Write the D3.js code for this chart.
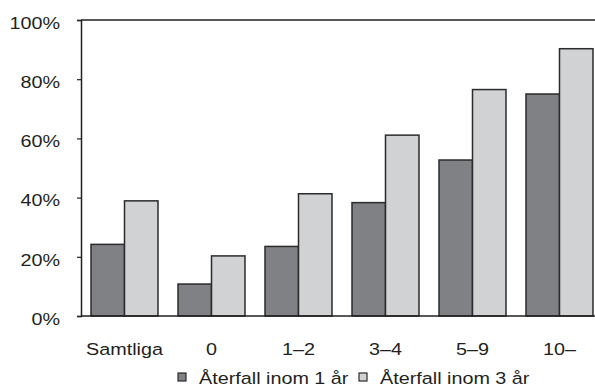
<!DOCTYPE html>
<html>
<head>
<meta charset="utf-8">
<script src="https://cdn.jsdelivr.net/npm/d3@7"></script>
<style>
	body { margin: 0; background: #fff; }
	text { font-family: "Liberation Sans", Arial, sans-serif; fill: #231f20; }
</style>
</head>
<body>
<svg id="chart" width="595" height="389"></svg>
<script>
const categories = ["Samtliga", "0", "1–2", "3–4", "5–9", "10–"];
const seriesNames = ["Återfall inom 1 år", "Återfall inom 3 år"];
const within1Year = [24.2, 10.8, 23.5, 38.3, 52.7, 75.0];
const within3Years = [38.9, 20.3, 41.3, 61.1, 76.5, 90.3];
const yTicks = [0, 20, 40, 60, 80, 100];

const colors = ["#808185", "#d1d2d4"];
const ink = "#231f20";
const fontSize = 17.2;
const stretch = 1.15; // reference type is a bit wider than Liberation Sans

const svg = d3.select("#chart");
const margin = { left: 81, top: 20, bottom: 316 };

const x = d3.scaleBand()
	.domain(categories)
	.range([margin.left, 603])
	.paddingInner(0.23)
	.paddingOuter(0.115);

const xSub = d3.scaleBand()
	.domain(seriesNames)
	.range([0, x.bandwidth()]);

const y = d3.scaleLinear()
	.domain([0, 100])
	.range([margin.bottom, margin.top]);

const rows = categories.map((c, i) => ({ cat: c, values: [within1Year[i], within3Years[i]] }));

// bars
const groups = svg.append("g")
	.selectAll("g")
	.data(rows)
	.join("g")
	.attr("transform", d => `translate(${x(d.cat)},0)`);

groups.selectAll("rect")
	.data(d => d.values.map((v, j) => ({ v, j })))
	.join("rect")
	.attr("x", d => xSub(seriesNames[d.j]))
	.attr("y", d => y(d.v))
	.attr("width", xSub.bandwidth())
	.attr("height", d => y(0) - y(d.v))
	.attr("fill", d => colors[d.j])
	.attr("stroke", "#2b2b2b")
	.attr("stroke-width", 1.5);

// frame lines: top and baseline
svg.append("line")
	.attr("x1", margin.left).attr("x2", 595)
	.attr("y1", y(100)).attr("y2", y(100))
	.attr("stroke", ink).attr("stroke-width", 1.5);
svg.append("line")
	.attr("x1", margin.left).attr("x2", 595)
	.attr("y1", y(0)).attr("y2", y(0))
	.attr("stroke", ink).attr("stroke-width", 1.5);

// y axis
const yAxis = svg.append("g")
	.attr("transform", `translate(${margin.left},0)`)
	.call(d3.axisLeft(y).tickValues(yTicks).tickSize(4).tickPadding(17).tickFormat(d => d + "%"));
yAxis.select(".domain").attr("stroke", ink).attr("stroke-width", 1.5);
yAxis.selectAll(".tick line").attr("stroke", ink).attr("stroke-width", 1.2);
yAxis.selectAll(".tick text")
	.attr("font-size", fontSize)
	.attr("font-family", null)
	.attr("fill", ink)
	.attr("dy", "0.48em");

// x labels
svg.append("g")
	.selectAll("text")
	.data(categories)
	.join("text")
	.attr("x", d => x(d) + x.bandwidth() / 2)
	.attr("y", 355)
	.attr("text-anchor", "middle")
	.attr("font-size", fontSize)
	.text(d => d);

// legend
const legendX = [178, 359];
const legend = svg.append("g")
	.selectAll("g")
	.data(seriesNames)
	.join("g")
	.attr("transform", (d, i) => `translate(${legendX[i]},373)`);
legend.append("rect")
	.attr("width", 8).attr("height", 8)
	.attr("fill", (d, i) => colors[i])
	.attr("stroke", "#2b2b2b")
	.attr("stroke-width", 1.2);
legend.append("text")
	.attr("x", 21)
	.attr("y", 11)
	.attr("font-size", fontSize)
	.text(d => d);

// widen all labels a little to match the reference lettering
svg.selectAll("text").each(function () {
	const len = this.getComputedTextLength();
	d3.select(this)
		.attr("textLength", len * stretch)
		.attr("lengthAdjust", "spacingAndGlyphs");
});
</script>
</body>
</html>
